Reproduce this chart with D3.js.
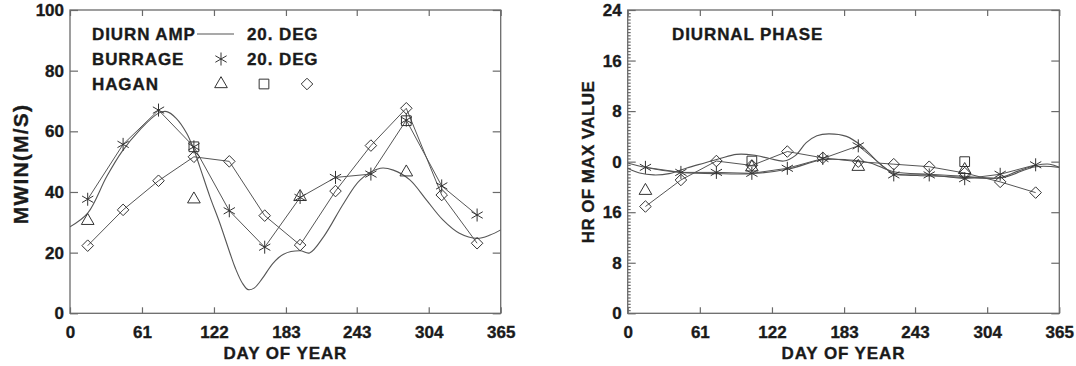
<!DOCTYPE html>
<html>
<head>
<meta charset="utf-8">
<script src="https://cdn.jsdelivr.net/npm/d3@7"></script>
<style>
  body { margin: 0; background: #fff; }
  svg { display: block; font-family: "Liberation Sans", Arial, sans-serif; font-weight: bold; }
  .frame { fill: none; stroke: #6a6a6a; stroke-width: 1.3; }
  .domain { display: none; }
  .tick line { stroke: #6a6a6a; stroke-width: 1.2; }
  .tick text { fill: #1a1a1a; stroke: #1a1a1a; stroke-width: 0.35px; font-size: 17px; font-weight: bold; font-family: "Liberation Sans", Arial, sans-serif; }
  .label { fill: #1a1a1a; stroke: #1a1a1a; stroke-width: 0.35px; font-size: 17px; letter-spacing: 0.9px; }
  .line { fill: none; stroke: #555; stroke-width: 1; }
  .curve { fill: none; stroke: #555; stroke-width: 1.1; }
  .mark { fill: none; stroke: #333; stroke-width: 1; }
</style>
</head>
<body>
<svg id="chart" width="1076" height="366"></svg>
<script>
// ---- data ----
const dayTicks = [0, 61, 122, 183, 243, 304, 365];
const ampTicks = [0, 20, 40, 60, 80, 100];
const phaseTicks = [-24, -16, -8, 0, 8, 16, 24];

// monthly points (mid-month days)
const days = [15, 45, 75, 105, 135, 165, 195, 225, 255, 285, 315, 345];
const burrageAmp = [37.6, 55.7, 67, 54.9, 33.8, 21.8, 38.2, 44.8, 45.9, 63.7, 42, 32.4];
const haganDiamondAmp = [22.3, 34.1, 43.7, 51.6, 50.1, 32.2, 22.5, 40.3, 55.3, 67.6, 39, 23.1];
const burragePhase = [-0.9, -1.7, -1.7, -1.85, -1.05, 0.5, 2.5, -2.1, -2.1, -2.7, -2.0, -0.5];
const haganDiamondPhase = [-7.1, -2.9, 0.1, -0.6, 1.6, 0.6, 0, -0.4, -0.8, -1.8, -3.2, -4.9];

// Hagan triangles / squares (seasonal)
const triangleDays = [15, 105, 195, 285];
const haganTriangleAmp = [30.5, 37.6, 38.4, 46.5];
const haganTrianglePhase = [-4.6, -0.9, -0.8, -1.3];
const squareDays = [105, 285];
const haganSquareAmp = [54.9, 63.5];
const haganSquarePhase = [0.1, 0];

// model curve, diurnal amplitude 20 deg
const modelAmpDays = [0, 15, 31, 44, 59, 75, 82, 90, 99, 104.5, 110, 118.6, 127, 135.6, 140, 146, 151, 156, 163, 172, 181, 195, 203, 215, 232, 246, 263, 274, 288, 302, 316, 330, 345, 356, 365];
const modelAmp = [28.5, 33, 45, 53.3, 60.4, 66, 66.5, 64.3, 59.3, 54.4, 48.3, 38.4, 29.7, 19.8, 15, 10, 7.8, 8.3, 11.5, 16.5, 19.5, 20.6, 19.9, 25.3, 36.3, 44, 47.8, 47.2, 44, 37.4, 30.8, 26.4, 24.7, 25.8, 27.5];

// model phase curves
const modelPhaseDays = [0, 10, 22, 35, 50, 65, 78, 92, 106, 120, 132, 142, 151, 160, 170, 185, 197, 213, 225, 245, 265, 285, 300, 315, 330, 345, 357, 365];
const modelPhase = [-1.05, -1.8, -2.1, -1.9, -1.0, -0.2, 0.5, 1.15, 1.05, 0.5, 0.1, 1.0, 3.0, 4.1, 4.4, 4.0, 2.6, -0.3, -1.85, -2.2, -2.3, -2.5, -2.6, -2.5, -1.5, -0.6, -0.4, -0.9];
const modelPhase2Days = [0, 15, 30, 45, 75, 105, 135, 165, 185, 205, 225, 255, 285, 315, 345, 365];
const modelPhase2 = [-0.2, -0.9, -1.4, -1.7, -1.9, -1.9, -1.2, 0.3, 0.3, -0.2, -1.6, -2.0, -2.3, -2.6, -0.8, -0.9];

// ---- layout ----
const svg = d3.select("#chart");

const panelL = {
    x: d3.scaleLinear().domain([0, 365]).range([70, 500.7]),
    y: d3.scaleLinear().domain([0, 100]).range([313.3, 10])
};
const panelR = {
    x: d3.scaleLinear().domain([0, 365]).range([627.7, 1059.3]),
    y: d3.scaleLinear().domain([-24, 24]).range([313.3, 10])
};

const zip = (xs, ys) => xs.map((d, i) => [d, ys[i]]);

// 畫框與刻度
const drawAxes = (p, yTicks, yFmt, minorTicks) => {
    const [x0, x1] = p.x.range();
    const [y0, y1] = p.y.range();
    const g = svg.append("g");

    g.append("g")
        .attr("transform", `translate(0,${y0})`)
        .call(d3.axisBottom(p.x).tickValues(dayTicks).tickSize(-6).tickPadding(13).tickFormat(d3.format("d")));
    g.append("g")
        .attr("transform", `translate(0,${y1})`)
        .call(d3.axisTop(p.x).tickValues(dayTicks).tickSize(-6).tickFormat(""));
    if (minorTicks) {
        g.append("g")
            .attr("transform", `translate(${x0},0)`)
            .call(d3.axisLeft(p.y).tickValues(minorTicks).tickSize(-3).tickFormat(""));
    }
    g.append("g")
        .attr("transform", `translate(${x0},0)`)
        .call(d3.axisLeft(p.y).tickValues(yTicks).tickSize(-8).tickPadding(6).tickFormat(yFmt));
    g.append("g")
        .attr("transform", `translate(${x1},0)`)
        .call(d3.axisRight(p.y).tickValues(yTicks).tickSize(-8).tickFormat(""));

    g.append("rect")
        .attr("class", "frame")
        .attr("x", x0).attr("y", y1)
        .attr("width", x1 - x0).attr("height", y0 - y1);

    g.append("text")
        .attr("class", "label")
        .attr("x", (x0 + x1) / 2).attr("y", 359)
        .attr("text-anchor", "middle")
        .text("DAY OF YEAR");
};

// 標記符號
const asteriskPath = r => {
    const a = Math.PI / 6;
    const dx = r * Math.cos(a), dy = r * Math.sin(a);
    return `M0,${-r}V${r}M${-dx},${-dy}L${dx},${dy}M${-dx},${dy}L${dx},${-dy}`;
};
const symbolPath = {
    asterisk: asteriskPath(6.5),
    triangle: d3.symbol(d3.symbolTriangle2, 115)(),
    square: d3.symbol(d3.symbolSquare2, 120)(),
    diamond: d3.symbol(d3.symbolDiamond2, 85)()
};

const drawMarks = (g, p, pts, shape) => {
    g.append("g")
        .selectAll("path")
        .data(pts)
        .enter()
        .append("path")
        .attr("class", "mark")
        .attr("transform", d => `translate(${p.x(d[0])},${p.y(d[1])})`)
        .attr("d", symbolPath[shape]);
};

const drawLine = (g, p, pts, cls, curve) => {
    g.append("path")
        .attr("class", cls)
        .attr("d", d3.line().x(d => p.x(d[0])).y(d => p.y(d[1])).curve(curve)(pts));
};

const clipFor = (id, p) => {
    const [x0, x1] = p.x.range();
    const [y0, y1] = p.y.range();
    svg.append("clipPath").attr("id", id)
        .append("rect").attr("x", x0).attr("y", y1).attr("width", x1 - x0).attr("height", y0 - y1);
    return svg.append("g").attr("clip-path", `url(#${id})`);
};

// ---- left: amplitude ----
drawAxes(panelL, ampTicks, d3.format("d"));
const gL = clipFor("clipL", panelL);
drawLine(gL, panelL, zip(modelAmpDays, modelAmp), "curve", d3.curveCatmullRom.alpha(0.5));
drawLine(gL, panelL, zip(days, burrageAmp), "line", d3.curveLinear);
drawLine(gL, panelL, zip(days, haganDiamondAmp), "line", d3.curveLinear);
drawMarks(gL, panelL, zip(days, burrageAmp), "asterisk");
drawMarks(gL, panelL, zip(days, haganDiamondAmp), "diamond");
drawMarks(gL, panelL, zip(triangleDays, haganTriangleAmp), "triangle");
drawMarks(gL, panelL, zip(squareDays, haganSquareAmp), "square");

svg.append("text")
    .attr("class", "label")
    .attr("transform", "translate(28,164) rotate(-90)")
    .attr("text-anchor", "middle")
    .style("font-size", "21px")
    .style("letter-spacing", "1.2px")
    .text("MWIN(M/S)");

// legend
const legend = svg.append("g");
const legendRows = [
    { name: "DIURN AMP", y: 40, tail: "20. DEG" },
    { name: "BURRAGE", y: 65, tail: "20. DEG" },
    { name: "HAGAN", y: 90, tail: null }
];
legend.selectAll("text.name")
    .data(legendRows)
    .enter()
    .append("text")
    .attr("class", "label")
    .attr("x", 92).attr("y", d => d.y)
    .text(d => d.name);
legend.selectAll("text.tail")
    .data(legendRows.filter(d => d.tail))
    .enter()
    .append("text")
    .attr("class", "label")
    .attr("x", 247).attr("y", d => d.y)
    .text(d => d.tail);
legend.append("line")
    .attr("class", "curve")
    .attr("x1", 197).attr("x2", 234).attr("y1", 34).attr("y2", 34);
[["asterisk", 221, 59], ["triangle", 221, 84], ["square", 264, 84], ["diamond", 307, 84]]
    .forEach(([shape, cx, cy]) => {
        legend.append("path")
            .attr("class", "mark")
            .attr("transform", `translate(${cx},${cy})`)
            .attr("d", symbolPath[shape]);
    });

// ---- right: phase ----
const minorPhase = d3.range(-24, 24.01, 0.5).filter(v => v % 8 !== 0);
drawAxes(panelR, phaseTicks, v => v < 0 ? v + 24 : v, minorPhase);
const gR = clipFor("clipR", panelR);
drawLine(gR, panelR, zip(modelPhaseDays, modelPhase), "curve", d3.curveCatmullRom.alpha(0.5));
drawLine(gR, panelR, zip(modelPhase2Days, modelPhase2), "curve", d3.curveCatmullRom.alpha(0.5));
drawLine(gR, panelR, zip(days, burragePhase), "line", d3.curveLinear);
drawLine(gR, panelR, zip(days, haganDiamondPhase), "line", d3.curveLinear);
drawMarks(gR, panelR, zip(days, burragePhase), "asterisk");
drawMarks(gR, panelR, zip(days, haganDiamondPhase), "diamond");
drawMarks(gR, panelR, zip(triangleDays, haganTrianglePhase), "triangle");
drawMarks(gR, panelR, zip(squareDays, haganSquarePhase), "square");

svg.append("text")
    .attr("class", "label")
    .attr("transform", "translate(594,162) rotate(-90)")
    .attr("text-anchor", "middle")
    .style("letter-spacing", "0.4px")
    .text("HR OF MAX VALUE");

svg.append("text")
    .attr("class", "label")
    .attr("x", 672).attr("y", 40)
    .text("DIURNAL PHASE");
</script>
</body>
</html>
